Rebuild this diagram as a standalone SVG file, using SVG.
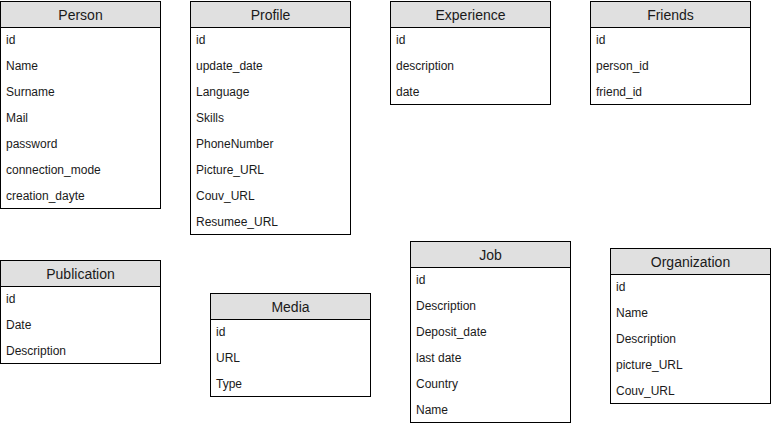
<svg xmlns="http://www.w3.org/2000/svg" width="771" height="427" viewBox="0 0 771 427">
<style>
.box{fill:#ffffff;stroke:#000000;stroke-width:1}
.hd{fill:#e0e0e0;stroke:#000000;stroke-width:1}
.t{font-family:"Liberation Sans",Arial,sans-serif;font-size:14px;fill:#1a1a1a;text-anchor:middle}
.r{font-family:"Liberation Sans",Arial,sans-serif;font-size:12px;fill:#1a1a1a}
</style>
<rect width="771" height="427" fill="#ffffff"/>
<g id="Person">
<rect class="box" x="0.5" y="1.5" width="160" height="207"/>
<rect class="hd" x="0.5" y="1.5" width="160" height="26"/>
<text class="t" x="80.5" y="19.5">Person</text>
<text class="r" x="6" y="44">id</text>
<text class="r" x="6" y="70">Name</text>
<text class="r" x="6" y="96">Surname</text>
<text class="r" x="6" y="122">Mail</text>
<text class="r" x="6" y="148">password</text>
<text class="r" x="6" y="174">connection_mode</text>
<text class="r" x="6" y="200">creation_dayte</text>
</g>
<g id="Profile">
<rect class="box" x="190.5" y="1.5" width="160" height="233"/>
<rect class="hd" x="190.5" y="1.5" width="160" height="26"/>
<text class="t" x="270.5" y="19.5">Profile</text>
<text class="r" x="196" y="44">id</text>
<text class="r" x="196" y="70">update_date</text>
<text class="r" x="196" y="96">Language</text>
<text class="r" x="196" y="122">Skills</text>
<text class="r" x="196" y="148">PhoneNumber</text>
<text class="r" x="196" y="174">Picture_URL</text>
<text class="r" x="196" y="200">Couv_URL</text>
<text class="r" x="196" y="226">Resumee_URL</text>
</g>
<g id="Experience">
<rect class="box" x="390.5" y="1.5" width="160" height="103"/>
<rect class="hd" x="390.5" y="1.5" width="160" height="26"/>
<text class="t" x="470.5" y="19.5">Experience</text>
<text class="r" x="396" y="44">id</text>
<text class="r" x="396" y="70">description</text>
<text class="r" x="396" y="96">date</text>
</g>
<g id="Friends">
<rect class="box" x="590.5" y="1.5" width="160" height="103"/>
<rect class="hd" x="590.5" y="1.5" width="160" height="26"/>
<text class="t" x="670.5" y="19.5">Friends</text>
<text class="r" x="596" y="44">id</text>
<text class="r" x="596" y="70">person_id</text>
<text class="r" x="596" y="96">friend_id</text>
</g>
<g id="Publication">
<rect class="box" x="0.5" y="260.5" width="160" height="103"/>
<rect class="hd" x="0.5" y="260.5" width="160" height="26"/>
<text class="t" x="80.5" y="278.5">Publication</text>
<text class="r" x="6" y="303">id</text>
<text class="r" x="6" y="329">Date</text>
<text class="r" x="6" y="355">Description</text>
</g>
<g id="Media">
<rect class="box" x="210.5" y="293.5" width="160" height="103"/>
<rect class="hd" x="210.5" y="293.5" width="160" height="26"/>
<text class="t" x="290.5" y="311.5">Media</text>
<text class="r" x="216" y="336">id</text>
<text class="r" x="216" y="362">URL</text>
<text class="r" x="216" y="388">Type</text>
</g>
<g id="Job">
<rect class="box" x="410.5" y="241.5" width="160" height="181"/>
<rect class="hd" x="410.5" y="241.5" width="160" height="26"/>
<text class="t" x="490.5" y="259.5">Job</text>
<text class="r" x="416" y="284">id</text>
<text class="r" x="416" y="310">Description</text>
<text class="r" x="416" y="336">Deposit_date</text>
<text class="r" x="416" y="362">last date</text>
<text class="r" x="416" y="388">Country</text>
<text class="r" x="416" y="414">Name</text>
</g>
<g id="Organization">
<rect class="box" x="610.5" y="248.5" width="160" height="155"/>
<rect class="hd" x="610.5" y="248.5" width="160" height="26"/>
<text class="t" x="690.5" y="266.5">Organization</text>
<text class="r" x="616" y="291">id</text>
<text class="r" x="616" y="317">Name</text>
<text class="r" x="616" y="343">Description</text>
<text class="r" x="616" y="369">picture_URL</text>
<text class="r" x="616" y="395">Couv_URL</text>
</g>
<g id="connectors"></g>
</svg>
